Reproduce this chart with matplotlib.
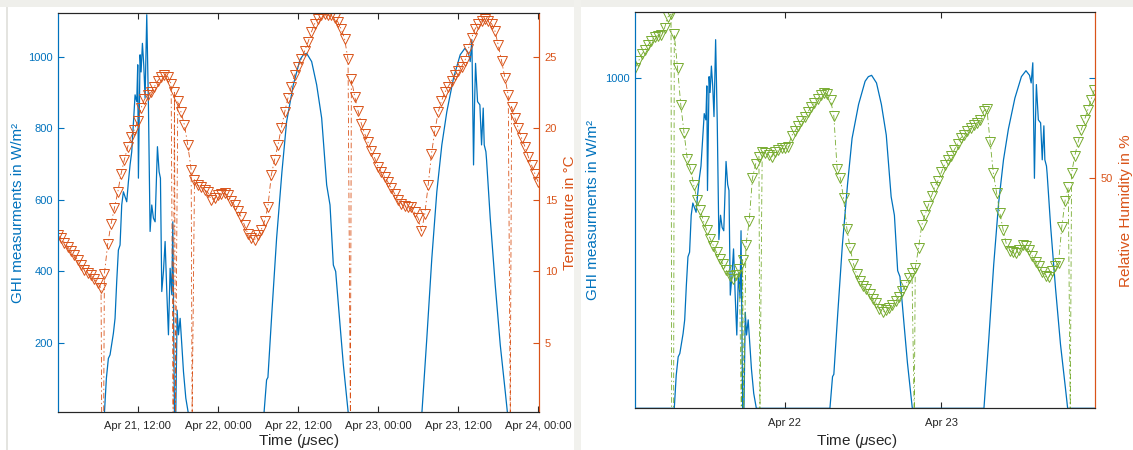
import numpy as np
import pandas as pd
import matplotlib
matplotlib.use('Agg')
import matplotlib.pyplot as plt
import matplotlib.dates as mdates
from matplotlib.patches import Rectangle

plt.rcParams['font.family'] = ['Liberation Sans', 'DejaVu Sans']
plt.rcParams['mathtext.fontset'] = 'custom'
plt.rcParams['mathtext.it'] = 'Liberation Sans:italic'
plt.rcParams['mathtext.rm'] = 'Liberation Sans'
plt.rcParams['lines.scale_dashes'] = False

START = pd.Timestamp('2019-04-21 00:00')

# air temperature (degC), one reading every 30 min from Apr 21 00:00
temp_start_h = 0.0
temp_c = [
    12.5, 12.3, 12.0, 11.7, 11.4, 11.1, 10.8, 10.4, 10.1, 9.9, 9.7, 9.45,
    9.2, 8.8, 9.8, 11.9, 13.3, 14.4, 15.5, 16.8, 17.8, 18.7, 19.4, 19.9,
    20.5, 21.4, 22.0, 22.3, 22.5, 22.9, 23.3, 23.6, 23.7, 23.6, 23.1, 22.5,
    21.9, 21.1, 20.2, 18.8, 17.1, 16.4, 16.0, 15.9, 15.7, 15.5, 15.0, 15.1,
    15.3, 15.4, 15.45, 15.3, 14.9, 14.6, 14.2, 13.8, 13.2, 12.6, 12.3, 12.2,
    12.5, 12.9, 13.5, 14.5, 16.7, 17.8, 18.8, 20.0, 21.1, 22.1, 22.9, 23.7,
    24.3, 24.8, 25.4, 26.0, 26.7, 27.3, 27.6, 27.9, 28.0, 27.9, 27.9, 27.7,
    27.4, 26.9, 26.2, 24.8, 23.4, 22.2, 21.2, 20.3, 19.6, 19.0, 18.4, 17.9,
    17.3, 16.9, 16.6, 16.2, 15.8, 15.4, 15.0, 14.7, 14.55, 14.5, 14.5, 14.1,
    13.7, 12.8, 14.0, 16.0, 18.2, 19.8, 21.1, 21.9, 22.5, 22.9, 23.3, 23.7,
    24.0, 24.3, 24.7, 25.5, 26.3, 26.9, 27.3, 27.5, 27.6, 27.5, 27.3, 26.8,
    25.8, 24.7, 23.5, 22.3, 21.5, 20.7, 20.0, 19.3, 18.7, 18.0, 17.4, 16.8,
    16.2,
]

# relative humidity (%), every 30 min from Apr 21 01:00
hum_start_h = 1.0
humidity = [
    73.0, 74.4, 75.8, 76.8, 77.8, 78.7, 79.5, 79.7, 79.9, 81.3, 83.6, 84.2,
    80.0, 73.0, 65.3, 59.5, 54.0, 52.0, 48.5, 45.5, 43.3, 41.0, 39.1, 37.4,
    35.9, 34.5, 33.2, 32.0, 30.8, 29.7, 29.0, 29.8, 31.0, 33.0, 36.0, 41.0,
    50.0, 53.0, 54.5, 55.5, 55.3, 54.8, 54.5, 55.5, 55.8, 56.2, 56.2, 56.6,
    58.8, 59.8, 60.8, 62.0, 62.8, 63.8, 64.8, 65.6, 66.5, 67.4, 67.8, 67.6,
    66.3, 63.0, 52.0, 50.0, 45.8, 39.5, 35.4, 32.2, 30.0, 28.6, 27.6, 26.8,
    25.9, 24.8, 23.9, 22.8, 22.1, 22.4, 22.9, 23.6, 24.4, 25.3, 26.4, 27.7,
    29.1, 30.2, 31.2, 35.4, 40.2, 42.4, 44.3, 46.3, 48.2, 49.5, 51.2, 52.8,
    53.8, 54.6, 55.9, 57.2, 58.4, 59.1, 59.8, 60.4, 61.0, 61.6, 62.1, 64.0,
    64.5, 57.5, 51.0, 46.9, 42.7, 39.2, 36.2, 34.9, 34.5, 34.3, 35.0, 36.1,
    35.9, 35.0, 33.7, 32.6, 31.6, 30.5, 29.5, 29.3, 30.6, 31.6, 32.4, 39.8,
    45.3, 48.1, 51.0, 54.7, 57.5, 60.1, 62.2, 64.3, 66.4, 68.4,
]

# logger dropouts, stored as 0 (hours after Apr 21 00:00)
dropout_h = [6.6, 6.9, 17.3, 17.65, 20.15, 43.85, 67.8]

# global horizontal irradiance (W/m2), hours after Apr 21 00:00
ghi_h = [0.0, 7.0, 7.3, 7.6, 7.85, 8.35, 8.6, 8.85, 9.1, 9.35, 9.6, 9.85, 10.35,
         10.6, 10.85, 11.1, 11.6, 11.85, 12.0, 12.1, 12.35, 12.5, 12.7, 12.9, 13.1,
         13.35, 13.6, 13.85, 14.1, 14.35, 14.6, 14.95, 15.2, 15.4, 15.6, 15.85, 16.1,
         16.35, 16.6, 16.85, 17.1, 17.25, 17.4, 17.5, 17.7, 17.9, 18.1, 18.35, 18.6,
         18.85, 19.2, 19.6,
         30.9, 31.3, 31.5, 32.1, 32.8, 33.6, 34.3, 35.3, 36.3, 36.8, 37.3, 38.05,
         38.8, 39.55, 40.3, 40.8, 41.3, 41.65, 42.3, 42.8, 43.55,
         54.55, 55.3, 56.05, 56.8, 57.55, 58.3, 59.3, 60.3, 61.0, 61.55, 61.8, 62.05,
         62.3, 62.45, 62.6, 62.9, 63.25, 63.5, 63.75, 63.9, 64.15, 64.25, 64.8, 65.55,
         66.3, 67.05, 67.4, 72.2]
ghi_w = [0, 0, 100, 156, 166, 226, 268, 371, 459, 473, 585, 622, 594,
         650, 697, 734, 893, 874, 977, 660, 1005, 957, 1037, 977, 884,
         1117, 865, 511, 585, 548, 538, 748, 678, 660, 343, 399, 483,
         343, 222, 408, 334, 538, 212, 0, 0, 291, 222, 268, 194,
         119, 45, 0,
         0, 96, 103, 287, 492, 678, 818, 921, 991, 1005, 1009, 986,
         921, 828, 641, 585, 417, 399, 250, 138, 0,
         0, 212, 436, 622, 753, 846, 940, 1005, 1023, 1009, 986, 1047,
         697, 865, 981, 874, 865, 753, 856, 753, 734, 711, 548, 361,
         194, 63, 0, 0]

BLUE = '#0072BD'
ORANGE = '#D95319'
GREEN = '#77AC30'
DARK = '#262626'
DASHDOT = (0, (4, 2, 1, 2))


def to_time(hours):
    return START + pd.to_timedelta(np.asarray(hours, dtype=float), unit='h')


def with_dropouts(start_h, values):
    # regular readings merged with the zero dropouts; markers only on readings
    hours = start_h + 0.5 * np.arange(len(values))
    s = pd.Series(values, index=hours, dtype=float)
    d = pd.Series(0.0, index=dropout_h)
    flag = pd.concat([pd.Series(True, index=hours), pd.Series(False, index=dropout_h)])
    s = pd.concat([s, d])
    order = np.argsort(s.index.values, kind='stable')
    return to_time(s.index.values[order]), s.values[order], list(flag.values[order])


W, H = 1133, 450
fig = plt.figure(figsize=(W / 100, H / 100), dpi=100)
fig.patch.set_facecolor('white')


def px_axes(l, t, r, b):
    return fig.add_axes([l / W, 1 - b / H, (r - l) / W, (b - t) / H])


def px_rect(l, t, r, b, color):
    fig.patches.append(Rectangle((l / W, 1 - b / H), (r - l) / W, (b - t) / H,
                                 transform=fig.transFigure, color=color, lw=0, zorder=0))


# window chrome around the two plots
px_rect(0, 0, W, 7, '#EFEFEB')
px_rect(574, 0, 581, H, '#F1F1ED')
px_rect(6, 7, 8, H, '#E4E4E0')


def style(ax, axr, left_color, right_color):
    for a in (ax, axr):
        a.spines['left'].set_color(left_color)
        a.spines['right'].set_color(right_color)
        a.spines['top'].set_color(DARK)
        a.spines['bottom'].set_color(DARK)
        for sp in a.spines.values():
            sp.set_linewidth(0.8)
    ax.tick_params(axis='x', direction='in', length=4, top=True, colors=DARK,
                   labelsize=8, pad=7)
    ax.tick_params(axis='y', direction='in', length=4, colors=left_color,
                   labelsize=8, pad=4)
    axr.tick_params(axis='y', direction='in', length=4, colors=right_color,
                    labelsize=8, pad=4)


ghi_t = to_time(ghi_h)

# ---- left: GHI and temperature
ax1 = px_axes(58.3, 13.3, 539.3, 411.7)
ax1.plot(ghi_t, ghi_w, color=BLUE, lw=0.9)
ax1.set_ylim(7, 1121)
ax1.set_yticks([200, 400, 600, 800, 1000])
ax1r = ax1.twinx()
tt, tv, tmark = with_dropouts(temp_start_h, temp_c)
ax1r.plot(tt, tv, color=ORANGE, ls=DASHDOT, lw=0.6, marker='v', ms=7,
          mfc='none', mew=0.7, markevery=tmark)
ax1r.set_ylim(7 / 40, 1121 / 40)
ax1r.set_yticks([5, 10, 15, 20, 25])
ax1.set_xlim(to_time([0.1, 72.15]))
ax1.set_xticks(to_time([12, 24, 36, 48, 60, 72]))
ax1.xaxis.set_major_formatter(mdates.DateFormatter('%b %d, %H:%M'))
style(ax1, ax1r, BLUE, ORANGE)
ax1.set_ylabel('GHI measurments in W/m²', color=BLUE, fontsize=11, va='center')
ax1.yaxis.set_label_coords((18 - 58.3) / 481, 0.5)
ax1r.set_ylabel('Temprature in °C', color=ORANGE, fontsize=11, va='center')
ax1r.yaxis.set_label_coords((570 - 58.3) / 481, 0.5)
ax1.set_xlabel('Time ($\\mu$sec)', color=DARK, fontsize=11, va='center')
ax1.xaxis.set_label_coords(0.5, (411.7 - 440.5) / 398.4)

# ---- right: GHI and relative humidity
ax2 = px_axes(635, 12.3, 1095, 408.3)
ax2.plot(ghi_t, ghi_w, color=BLUE, lw=0.9)
ax2.set_ylim(0, 1200)
ax2.set_yticks([1000])
ax2r = ax2.twinx()
ht, hv, hmark = with_dropouts(hum_start_h, humidity)
ax2r.plot(ht, hv, color=GREEN, ls=DASHDOT, lw=0.6, marker='v', ms=7,
          mfc='none', mew=0.7, markevery=hmark)
ax2r.set_ylim(2, 84.6)
ax2r.set_yticks([50])
ax2.set_xlim(to_time([0.97, 71.6]))
ax2.set_xticks(to_time([24, 48]))
ax2.xaxis.set_major_formatter(mdates.DateFormatter('%b %d'))
style(ax2, ax2r, BLUE, ORANGE)
ax2.tick_params(axis='y', right=True, labelright=False)
ax2.set_ylabel('GHI measurments in W/m²', color=BLUE, fontsize=11, va='center')
ax2.yaxis.set_label_coords((593 - 635) / 460, 0.5)
ax2r.set_ylabel('Relative Humidity in %', color=ORANGE, fontsize=11, va='center')
ax2r.yaxis.set_label_coords((1126 - 635) / 460, 0.5)
ax2.set_xlabel('Time ($\\mu$sec)', color=DARK, fontsize=11, va='center')
ax2.xaxis.set_label_coords(0.483, (408.3 - 440.5) / 396)

fig.savefig('out.png', dpi=100)
